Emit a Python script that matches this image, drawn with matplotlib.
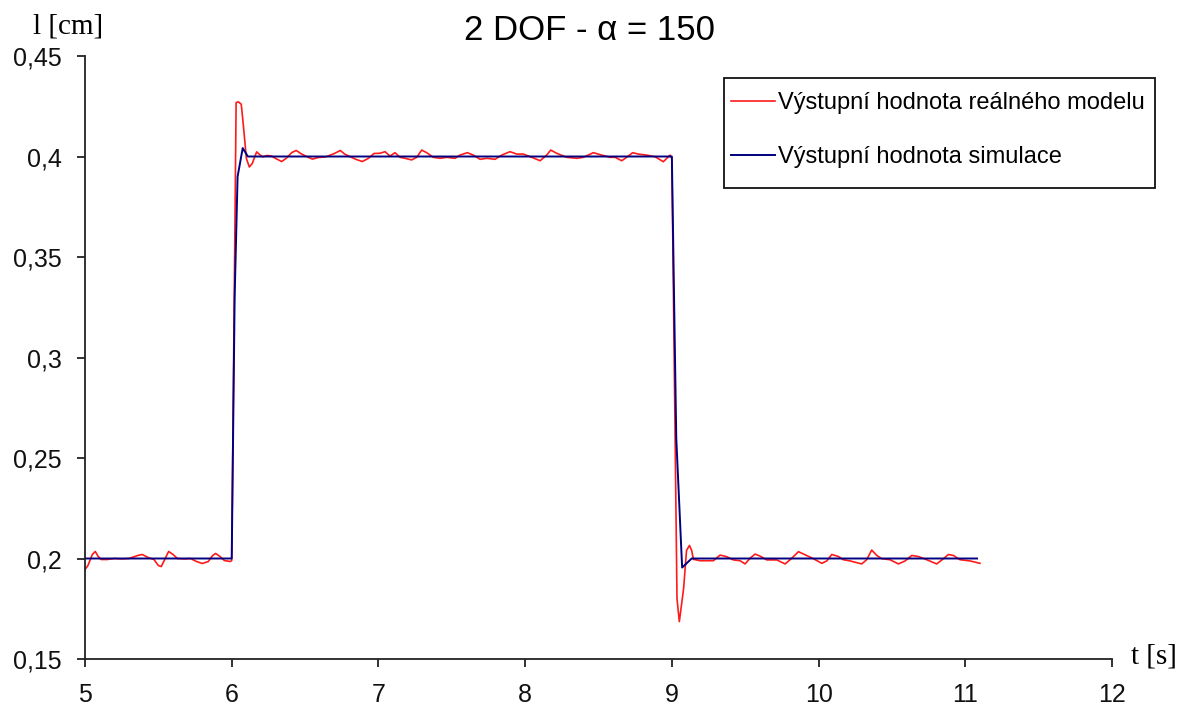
import matplotlib
matplotlib.use("Agg")
import matplotlib.pyplot as plt
from matplotlib.patches import Rectangle
from matplotlib.ticker import FuncFormatter

# Measured response of the real model
t_real = [5.000, 5.020, 5.050, 5.070, 5.090, 5.110, 5.150, 5.200, 5.250,
          5.300, 5.360, 5.390, 5.430, 5.470, 5.500, 5.520, 5.540, 5.570,
          5.600, 5.630, 5.680, 5.720, 5.760, 5.800, 5.840, 5.870, 5.890,
          5.920, 5.950, 5.990, 6.000, 6.030, 6.045, 6.065, 6.080, 6.100,
          6.120, 6.140, 6.170, 6.190, 6.210, 6.240, 6.270, 6.300, 6.340,
          6.370, 6.410, 6.440, 6.470, 6.510, 6.550, 6.590, 6.640, 6.700,
          6.740, 6.770, 6.810, 6.850, 6.890, 6.930, 6.970, 7.011, 7.045,
          7.079, 7.113, 7.147, 7.181, 7.226, 7.261, 7.295, 7.329, 7.374,
          7.420, 7.466, 7.522, 7.556, 7.606, 7.647, 7.693, 7.738, 7.795,
          7.840, 7.897, 7.943, 7.988, 8.045, 8.102, 8.147, 8.174, 8.215,
          8.283, 8.352, 8.397, 8.465, 8.522, 8.579, 8.613, 8.658, 8.692,
          8.733, 8.771, 8.828, 8.885, 8.942, 8.988, 9.000, 9.035, 9.051,
          9.080, 9.100, 9.120, 9.135, 9.147, 9.192, 9.238, 9.283, 9.329,
          9.374, 9.419, 9.465, 9.499, 9.533, 9.567, 9.601, 9.647, 9.715,
          9.772, 9.817, 9.863, 9.919, 9.965, 10.022, 10.056, 10.090,
          10.135, 10.169, 10.215, 10.294, 10.328, 10.362, 10.397, 10.431,
          10.487, 10.544, 10.590, 10.635, 10.680, 10.737, 10.805, 10.851,
          10.885, 10.919, 10.964, 11.032, 11.100]
l_real = [0.1945, 0.1965, 0.2020, 0.2035, 0.2010, 0.1995, 0.1995, 0.2000,
          0.1998, 0.2000, 0.2015, 0.2020, 0.2005, 0.1995, 0.1965, 0.1960,
          0.1990, 0.2035, 0.2020, 0.2000, 0.1998, 0.2000, 0.1985, 0.1975,
          0.1985, 0.2015, 0.2025, 0.2010, 0.1990, 0.1985, 0.1990, 0.4268,
          0.4272, 0.4260, 0.4150, 0.3990, 0.3948, 0.3965, 0.4023, 0.4010,
          0.3998, 0.4005, 0.4003, 0.3990, 0.3975, 0.3990, 0.4020, 0.4030,
          0.4015, 0.4000, 0.3987, 0.3995, 0.3998, 0.4015, 0.4030, 0.4012,
          0.3998, 0.3985, 0.3975, 0.3990, 0.4015, 0.4016, 0.4024, 0.4002,
          0.4019, 0.3996, 0.3991, 0.3983, 0.3996, 0.4032, 0.4019, 0.3996,
          0.3991, 0.3996, 0.3991, 0.4007, 0.4019, 0.4007, 0.3986, 0.3991,
          0.3986, 0.4007, 0.4024, 0.4012, 0.4012, 0.3996, 0.3979, 0.4007,
          0.4032, 0.4016, 0.3996, 0.3991, 0.3996, 0.4019, 0.4007, 0.3996,
          0.3996, 0.3979, 0.3996, 0.4019, 0.4012, 0.4007, 0.3999, 0.3974,
          0.4007, 0.3990, 0.1800, 0.1686, 0.1850, 0.2040, 0.2065, 0.2040,
          0.1996, 0.1989, 0.1989, 0.1989, 0.2017, 0.2009, 0.1993, 0.1989,
          0.1973, 0.2001, 0.2022, 0.2012, 0.1993, 0.1993, 0.1973, 0.2001,
          0.2034, 0.2015, 0.1999, 0.1976, 0.1988, 0.2020, 0.2010, 0.1994,
          0.1988, 0.1973, 0.1994, 0.2042, 0.2015, 0.1999, 0.1994, 0.1973,
          0.1988, 0.2015, 0.2010, 0.1994, 0.1973, 0.1999, 0.2020, 0.2015,
          0.1994, 0.1988, 0.1976]

# Simulated response
t_sim = [5.00, 6.00, 6.02, 6.04, 6.075, 6.11, 9.00, 9.03, 9.07, 9.135, 11.08]
l_sim = [0.200, 0.200, 0.330, 0.390, 0.4042, 0.400, 0.400, 0.260, 0.1955,
         0.200, 0.200]

x_ticks = [5, 6, 7, 8, 9, 10, 11, 12]
y_ticks = [0.15, 0.20, 0.25, 0.30, 0.35, 0.40, 0.45]

W, H = 1189, 711
fig = plt.figure(figsize=(W / 100, H / 100), dpi=100)
ax = fig.add_axes([85 / W, 1 - 659 / H, (1112 - 85) / W, (659 - 56) / H])

ax.plot(t_real, l_real, color="#ff1a1a", lw=1.2, solid_joinstyle="round",
        label="Výstupní hodnota reálného modelu")
ax.plot(t_sim, l_sim, color="#000080", lw=1.4,
        label="Výstupní hodnota simulace")

ax.set_xlim(5, 12)
ax.set_ylim(0.15, 0.45)
ax.set_xticks(x_ticks)
ax.set_yticks(y_ticks)
ax.yaxis.set_major_formatter(
    FuncFormatter(lambda v, _: f"{v:g}".replace(".", ",")))
for s in ("top", "right"):
    ax.spines[s].set_visible(False)
for s in ("left", "bottom"):
    ax.spines[s].set_linewidth(1.3)
    ax.spines[s].set_color("#222222")
ax.tick_params(axis="both", direction="out", length=6, width=1.3,
               color="#222222", labelsize=18, labelcolor="#111111",
               labelfontfamily="Liberation Sans")
ax.tick_params(axis="y", pad=11)
ax.tick_params(axis="x", pad=11)

fig.text(590 / W, 1 - 31 / H, "2 DOF - α = 150", ha="center", va="center",
         fontsize=25, family="Liberation Sans")
fig.text(68 / W, 1 - 27 / H, "l [cm]", ha="center", va="center",
         fontsize=21, family="Liberation Serif")
fig.text(1154 / W, 1 - 657 / H, "t [s]", ha="center", va="center",
         fontsize=21, family="Liberation Serif")

# Legend box drawn as its own rectangle, entries placed inside it
box = Rectangle((724 / W, 1 - 188 / H), (1155 - 724) / W, (188 - 78) / H,
                transform=fig.transFigure, facecolor="white",
                edgecolor="#111111", lw=1.3, zorder=4, clip_on=False)
ax.add_artist(box)
leg = ax.legend(loc="upper left", bbox_to_anchor=(731 / W, 1 - 92 / H),
                bbox_transform=fig.transFigure, frameon=False,
                prop={"family": "Liberation Sans", "size": 17},
                handlelength=1.85, handletextpad=0.13, labelspacing=1.35,
                borderpad=0, borderaxespad=0)
leg.set_zorder(6)

fig.savefig("out.png", dpi=100)
